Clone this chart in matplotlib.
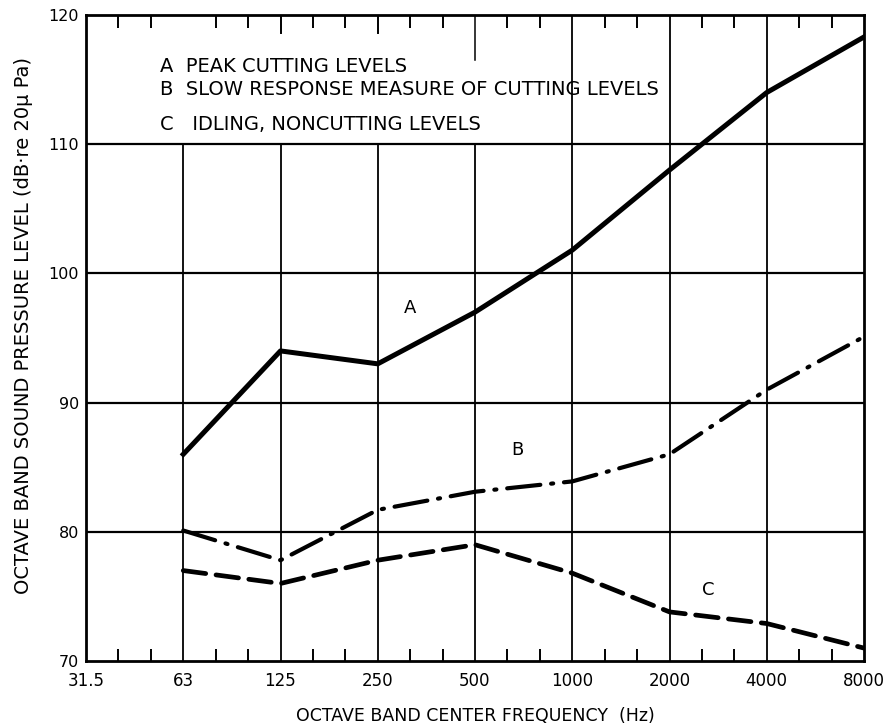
import matplotlib
matplotlib.use("Agg")
import matplotlib.pyplot as plt
import numpy as np

freq_labels = ["31.5", "63", "125", "250", "500", "1000", "2000", "4000", "8000"]
data_labels = ["63", "125", "250", "500", "1000", "2000", "4000", "8000"]
peak_cutting = [86, 94, 93, 97, 101.8, 108, 114, 118.3]
slow_response = [80.1, 77.8, 81.7, 83.1, 83.9, 86, 91, 95.1]
idling = [77, 76, 77.8, 79, 76.8, 73.8, 72.9, 71]
y_ticks = [70, 80, 90, 100, 110, 120]
legend_lines = ["A  PEAK CUTTING LEVELS",
                "B  SLOW RESPONSE MEASURE OF CUTTING LEVELS",
                "C   IDLING, NONCUTTING LEVELS"]

plt.rcParams['font.family'] = ['DejaVu Sans']
fig = plt.figure(figsize=(8.93, 7.28), dpi=100)
ax = fig.add_axes([86/893, 67/728, (864-86)/893, (661-15)/728])

xpos = {lab: i for i, lab in enumerate(freq_labels)}
xd = [xpos[l] for l in data_labels]

ax.set_xlim(0, len(freq_labels) - 1)
ax.set_ylim(70, 120)

# grid
for yv in y_ticks[1:-1]:
    ax.axhline(yv, color='black', lw=1.6, zorder=1)
vtops = {"63": 110, "125": 110, "250": 110, "500": 110, "1000": 120, "2000": 120, "4000": 120}
for lab, top in vtops.items():
    ax.plot([xpos[lab], xpos[lab]], [70, top], color='black', lw=1.3, zorder=1)
ax.plot([xpos["500"], xpos["500"]], [116.5, 120], color='black', lw=1.1, zorder=1)
for lab in ["125", "250"]:
    ax.plot([xpos[lab], xpos[lab]], [118.6, 120], color='black', lw=1.4, zorder=1)

ax.plot(xd, peak_cutting, color='black', lw=3.6, solid_joinstyle='round', zorder=3)
ax.plot(xd, slow_response, color='black', lw=3.0, linestyle=(0, (8, 2.6, 0.5, 2.6)),
        dash_capstyle='round', zorder=3)
ax.plot(xd, idling, color='black', lw=3.4, linestyle=(0, (4.8, 2.2)), dash_capstyle='round', zorder=3)

for sp in ax.spines.values():
    sp.set_linewidth(2.0)

ax.set_xticks(range(len(freq_labels)))
ax.set_xticklabels(freq_labels, fontsize=12)
ax.set_xticks(np.arange(0, len(freq_labels) - 1 + 1e-9, 1/3), minor=True)
ax.tick_params(axis='x', which='major', direction='in', length=0, pad=8, top=False)
ax.tick_params(axis='x', which='minor', direction='in', length=9, width=1.4, top=True, bottom=True)
ax.set_yticks(y_ticks)
ax.set_yticklabels([str(v) for v in y_ticks], fontsize=11.5)
ax.tick_params(axis='y', which='major', length=0, pad=5)

ax.set_xlabel("OCTAVE BAND CENTER FREQUENCY  (Hz)", fontsize=12.5, labelpad=12)
ax.set_ylabel("OCTAVE BAND SOUND PRESSURE LEVEL (dB\u00b7re 20\u03bc Pa)", fontsize=14)
ax.yaxis.set_label_coords(-0.068, 0.52)

leg_y = [116.0, 114.2, 111.5]
for txt, yy in zip(legend_lines, leg_y):
    ax.text(0.76, yy, txt, fontsize=14, va='center', ha='left')

ax.text(3.33, 97.3, "A", fontsize=13, ha='center', va='center')
ax.text(4.44, 86.3, "B", fontsize=13, ha='center', va='center')
ax.text(6.4, 75.5, "C", fontsize=13, ha='center', va='center')

fig.savefig("out.png", dpi=100)
